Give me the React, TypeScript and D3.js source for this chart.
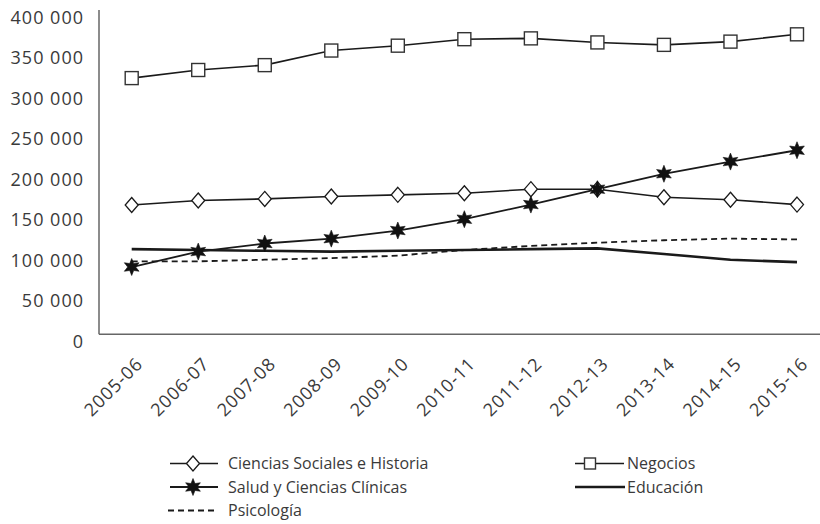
import React from "react";
import * as d3 from "d3";

const categories = ["2005-06","2006-07","2007-08","2008-09","2009-10","2010-11","2011-12","2012-13","2013-14","2014-15","2015-16"];
const cienciasSociales = [159500,165000,167000,170000,172000,174000,179000,179000,169000,166000,160000];
const negocios = [316000,326000,332000,350000,356000,364000,365000,360000,357000,361000,370000];
const salud = [83000,102000,112000,118000,128000,142000,160000,179000,198000,213000,227000];
const educacion = [105000,104000,103000,102000,103000,104000,105000,106000,99000,92000,89000];
const psicologia = [90000,90000,92000,94000,97000,104000,109000,113000,116000,118000,117000];
const yTicks = [0,50000,100000,150000,200000,250000,300000,350000,400000];
const legendNames = ["Ciencias Sociales e Historia","Negocios","Salud y Ciencias Clínicas","Educación","Psicología"];

const FONT = "'Open Sans', 'Noto Sans', sans-serif";
const TXT = "#3a3a3a";
const LINE = "#1a1a1a";

function fmt(v: number) {
  return d3.format(",")(v).replace(/,/g, " ");
}

function starPath(cx: number, cy: number, ro: number, ri: number, n = 6) {
  const pts: [number, number][] = [];
  for (let i = 0; i < n * 2; i++) {
    const r = i % 2 === 0 ? ro : ri;
    const a = -Math.PI / 2 + (i * Math.PI) / n;
    pts.push([cx + r * Math.cos(a), cy + r * Math.sin(a)]);
  }
  return "M" + pts.map((p) => p.join(",")).join("L") + "Z";
}

function Diamond({ x, y, w = 13, h = 15 }: { x: number; y: number; w?: number; h?: number }) {
  return (
    <path
      d={`M${x},${y - h / 2}L${x + w / 2},${y}L${x},${y + h / 2}L${x - w / 2},${y}Z`}
      fill="#fff"
      stroke={LINE}
      strokeWidth={1.3}
    />
  );
}
function Square({ x, y, s = 13 }: { x: number; y: number; s?: number }) {
  return <rect x={x - s / 2} y={y - s / 2} width={s} height={s} fill="#fff" stroke="#333" strokeWidth={1.4} />;
}
function Star({ x, y, ro = 8.5, ri = 4 }: { x: number; y: number; ro?: number; ri?: number }) {
  return <path d={starPath(x, y, ro, ri)} fill="#111" stroke="#111" strokeWidth={0.6} />;
}

export default function App() {
  const x = d3.scalePoint<string>().domain(categories).range([131.7, 797]);
  const y = d3.scaleLinear().domain([0, 400000]).range([334.3, 10]);
  const line = d3
    .line<number>()
    .x((_, i) => x(categories[i]) as number)
    .y((d) => y(d));

  const axisColor = "#666";
  const legendRows = [463.5, 487, 510.5];

  return (
    <svg
      width={820}
      height={524}
      style={{ position: "absolute", left: 0, top: 0, background: "#fff" }}
      fontFamily={FONT}
    >
      {/* axes */}
      <line x1={99} x2={99} y1={10} y2={y(0)} stroke={axisColor} strokeWidth={1.5} />
      <line x1={99} x2={820} y1={y(0)} y2={y(0)} stroke={axisColor} strokeWidth={1.5} />

      {yTicks.map((t) => (
        <text
          key={t}
          x={84}
          y={y(t) + 13.5}
          textAnchor="end"
          fontSize={18}
          letterSpacing={1.0}
          fill={TXT}
        >
          {fmt(t)}
        </text>
      ))}

      {categories.map((c) => (
        <text
          key={c}
          transform={`translate(${(x(c) as number) + 3},356) rotate(-45)`}
          textAnchor="end"
          dy="0.72em"
          fontSize={18}
          letterSpacing={0.9}
          fill={TXT}
        >
          {c}
        </text>
      ))}

      {/* lines */}
      <path d={line(psicologia) || ""} fill="none" stroke={LINE} strokeWidth={1.8} strokeDasharray="6,4" />
      <path d={line(educacion) || ""} fill="none" stroke={LINE} strokeWidth={2.6} />
      <path d={line(cienciasSociales) || ""} fill="none" stroke={LINE} strokeWidth={1.6} />
      <path d={line(negocios) || ""} fill="none" stroke={LINE} strokeWidth={1.6} />
      <path d={line(salud) || ""} fill="none" stroke={LINE} strokeWidth={1.8} />

      {cienciasSociales.map((v, i) => (
        <Diamond key={"d" + i} x={x(categories[i]) as number} y={y(v)} />
      ))}
      {negocios.map((v, i) => (
        <Square key={"s" + i} x={x(categories[i]) as number} y={y(v)} />
      ))}
      {salud.map((v, i) => (
        <Star key={"t" + i} x={x(categories[i]) as number} y={y(v)} />
      ))}

      {/* legend */}
      <g fontSize={16} fill={TXT}>
        <line x1={170} x2={218} y1={legendRows[0]} y2={legendRows[0]} stroke={LINE} strokeWidth={1.6} />
        <Diamond x={193} y={legendRows[0]} w={13} h={15} />
        <text x={228} y={legendRows[0]} dy="0.36em">{legendNames[0]}</text>

        <line x1={575} x2={624} y1={legendRows[0]} y2={legendRows[0]} stroke={LINE} strokeWidth={1.6} />
        <Square x={590} y={legendRows[0]} s={11} />
        <text x={627} y={legendRows[0]} dy="0.36em">{legendNames[1]}</text>

        <line x1={170} x2={218} y1={legendRows[1]} y2={legendRows[1]} stroke={LINE} strokeWidth={1.8} />
        <Star x={193} y={legendRows[1]} />
        <text x={228} y={legendRows[1]} dy="0.36em">{legendNames[2]}</text>

        <line x1={575} x2={625} y1={legendRows[1]} y2={legendRows[1]} stroke={LINE} strokeWidth={2.6} />
        <text x={627} y={legendRows[1]} dy="0.36em">{legendNames[3]}</text>

        <line x1={168} x2={216} y1={legendRows[2]} y2={legendRows[2]} stroke={LINE} strokeWidth={1.8} strokeDasharray="6,4" />
        <text x={228} y={legendRows[2]} dy="0.36em">{legendNames[4]}</text>
      </g>
    </svg>
  );
}
